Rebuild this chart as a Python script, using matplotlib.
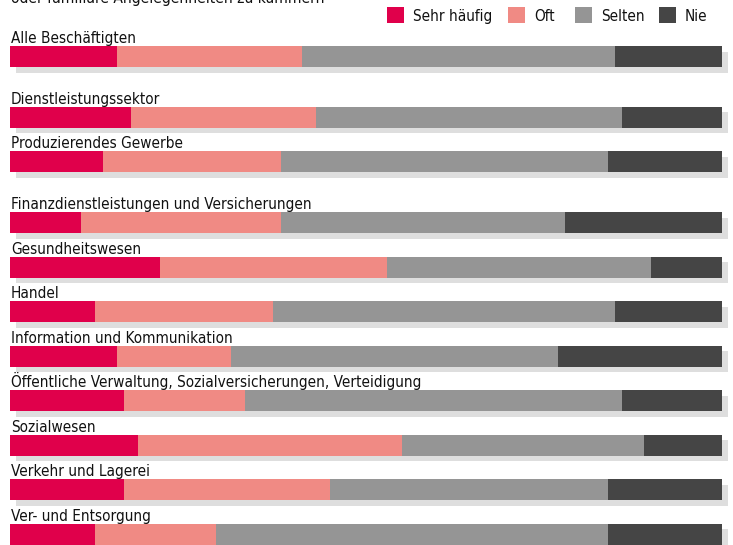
import matplotlib
matplotlib.use("Agg")
import matplotlib.pyplot as plt
import matplotlib.font_manager as fm
from matplotlib.patches import Rectangle
import numpy as np

categories = [
    "Alle Beschäftigten",
    "Dienstleistungssektor",
    "Produzierendes Gewerbe",
    "Finanzdienstleistungen und Versicherungen",
    "Gesundheitswesen",
    "Handel",
    "Information und Kommunikation",
    "Öffentliche Verwaltung, Sozialversicherungen, Verteidigung",
    "Sozialwesen",
    "Verkehr und Lagerei",
    "Ver- und Entsorgung",
]
# group index: rows in the same group are packed, groups separated by a gap
groups = [0, 1, 1, 2, 2, 2, 2, 2, 2, 2, 2]

sehr_haeufig = [15, 17, 13, 10, 21, 12, 15, 16, 18, 16, 12]
oft          = [26, 26, 25, 28, 32, 25, 16, 17, 37, 29, 17]
selten       = [44, 43, 46, 40, 37, 48, 46, 53, 34, 39, 55]
nie          = [15, 14, 16, 22, 10, 15, 23, 14, 11, 16, 16]

series_names = ["Sehr häufig", "Oft", "Selten", "Nie"]
colors = ["#E0004B", "#F08A84", "#959595", "#454545"]
title_text = "oder familiäre Angelegenheiten zu kümmern"

# pick a condensed font if one is installed
entries = fm.fontManager.ttflist
names = {f.name for f in entries}
stretch = "normal"
if "Liberation Sans Narrow" in names:
    family = "Liberation Sans Narrow"
elif any(f.name == "DejaVu Sans" and str(f.stretch) in ("condensed", "semi-condensed")
         for f in entries):
    family = "DejaVu Sans"
    stretch = "condensed"
else:
    family = "Roboto" if "Roboto" in names else "DejaVu Sans"
FONT = [family, "DejaVu Sans"]
plt.rcParams["font.family"] = FONT

W, H = 733, 545
fig = plt.figure(figsize=(W / 100, H / 100), dpi=100)
ax = fig.add_axes([0, 0, 1, 1])
renderer = fig.canvas.get_renderer()

def fit_size(s, target_px, base=11.0):
    t = fig.text(0, 0, s, fontsize=base, fontstretch=stretch)
    w = t.get_window_extent(renderer=renderer).width
    t.remove()
    return base * target_px / w

label_fs = fit_size("Alle Beschäftigten", 125)
title_fs = fit_size(title_text, 314)
legend_fs = fit_size("Sehr häufig", 79)

# pixel geometry helpers
px_per_pct = 7.12
x0_px = 10
row_px = 44.5
gap_rows = 0.37
bar_h_px = 21
first_center_px = 56.5

ypos = np.arange(len(categories)) + np.array(groups) * gap_rows
bar_h = bar_h_px / row_px

ax.set_xlim(-x0_px / px_per_pct, (W - x0_px) / px_per_pct)
ax.set_ylim((H - first_center_px) / row_px, -first_center_px / row_px)
ax.axis("off")

data = np.array([sehr_haeufig, oft, selten, nie], dtype=float)
totals = data.sum(axis=0)
pct = data / totals * 100

# shadow
dx = 6 / px_per_pct
dy = 5.5 / row_px
ax.barh(ypos + dy, 100, left=dx, height=bar_h, color="#DEDEDE", zorder=1)

left = np.zeros(len(categories))
for i, (name, col) in enumerate(zip(series_names, colors)):
    ax.barh(ypos, pct[i], left=left, height=bar_h, color=col, zorder=2,
            linewidth=0, label=name)
    left += pct[i]

for y, cat in zip(ypos, categories):
    ax.text(1 / px_per_pct, y - bar_h / 2 - 3 / row_px, cat, fontsize=label_fs,
            fontstretch=stretch, ha="left", va="baseline", color="#111111",
            zorder=3)

fig.text(11 / W, 1 - 3.5 / H, title_text, fontsize=title_fs, fontstretch=stretch,
         ha="left", va="baseline", color="#111111")

# legend drawn at fixed pixel slots (top right)
leg_x_px = [387, 508, 575, 659]
for xp, name, col in zip(leg_x_px, series_names, colors):
    fig.add_artist(Rectangle((xp / W, 1 - 23 / H), 17 / W, 16 / H,
                             transform=fig.transFigure, facecolor=col,
                             edgecolor="none"))
    fig.text((xp + 26) / W, 1 - 15 / H, name, fontsize=legend_fs,
             fontstretch=stretch, ha="left", va="center_baseline",
             color="#111111")

fig.savefig("out.png", dpi=100)
